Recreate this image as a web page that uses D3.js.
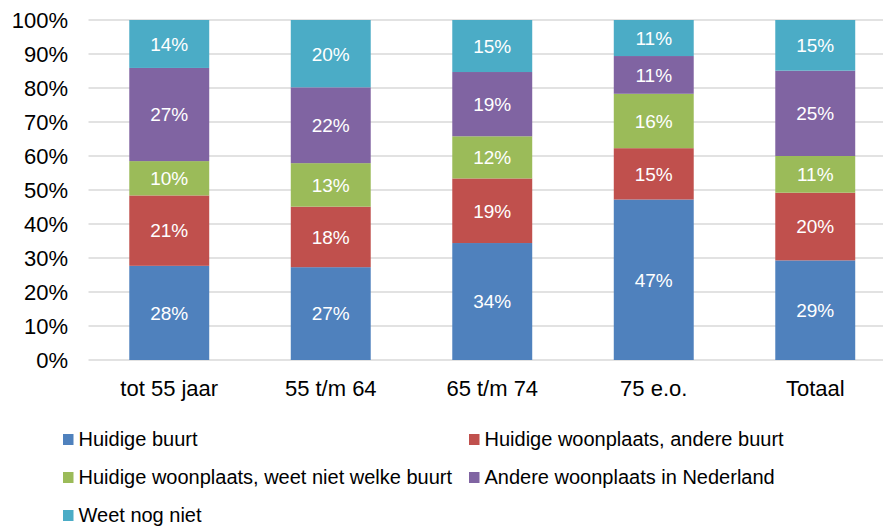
<!DOCTYPE html>
<html>
<head>
<meta charset="utf-8">
<script src="https://cdn.jsdelivr.net/npm/d3@7"></script>
<style>
  body { margin: 0; background: #fff; }
  text { font-family: "Liberation Sans", Arial, sans-serif; }
</style>
</head>
<body>
<div id="chart"></div>
<script>
// data
var categories = ["tot 55 jaar", "55 t/m 64", "65 t/m 74", "75 e.o.", "Totaal"];
var seriesNames = ["Huidige buurt", "Huidige woonplaats, andere buurt",
  "Huidige woonplaats, weet niet welke buurt", "Andere woonplaats in Nederland", "Weet nog niet"];
var huidigeBuurt   = [27.7, 27.3, 34.4, 47.2, 29.3];
var andereBuurt    = [20.7, 17.8, 19.0, 15.1, 19.9];
var weetNietBuurt  = [10.1, 12.8, 12.4, 16.0, 10.8];
var andereWoonpl   = [27.4, 22.3, 18.9, 11.1, 25.1];
var weetNogNiet    = [14.1, 19.8, 15.3, 10.6, 14.9];
var yTicks = [0, 10, 20, 30, 40, 50, 60, 70, 80, 90, 100];
var colors = ["#4F81BD", "#C0504D", "#9BBB59", "#8064A2", "#4BACC6"];

var W = 883, H = 526;
var svg = d3.select("#chart").append("svg")
  .attr("width", W)
  .attr("height", H);

// build rows for the stack
var keys = ["a", "b", "c", "d", "e"];
var rows = categories.map(function(c, i) {
  return {cat: c, a: huidigeBuurt[i], b: andereBuurt[i], c: weetNietBuurt[i], d: andereWoonpl[i], e: weetNogNiet[i]};
});
var stacked = d3.stack().keys(keys)(rows);

var x = d3.scaleBand()
  .domain(categories)
  .range([88.5, 896])
  .paddingInner(0.505)
  .paddingOuter(0.2525);

var y = d3.scaleLinear()
  .domain([0, 100])
  .range([360, 20]);

// gridlines
svg.append("g")
  .selectAll("line")
  .data(yTicks)
  .enter()
  .append("line")
    .attr("x1", 88.5)
    .attr("x2", W)
    .attr("y1", function(d) { return y(d) })
    .attr("y2", function(d) { return y(d) })
    .style("stroke", "#d9d9d9")
    .style("stroke-width", 1.5);

// y axis labels
var yAxis = svg.append("g")
  .attr("transform", "translate(89,0)")
  .call(d3.axisLeft(y).tickValues(yTicks).tickSize(0).tickPadding(21).tickFormat(function(d) { return d + "%" }));
yAxis.select(".domain").remove();
yAxis.selectAll("text")
  .style("font-size", "22px")
  .style("font-family", "'Liberation Sans', Arial, sans-serif")
  .attr("fill", "#000");

// bars
var layer = svg.selectAll(".layer")
  .data(stacked)
  .enter()
  .append("g")
    .attr("class", "layer")
    .style("fill", function(d, i) { return colors[i] });

layer.selectAll("rect")
  .data(function(d) { return d })
  .enter()
  .append("rect")
    .attr("x", function(d) { return x(d.data.cat) })
    .attr("y", function(d) { return y(d[1]) })
    .attr("width", x.bandwidth())
    .attr("height", function(d) { return y(d[0]) - y(d[1]) });

// data labels
layer.selectAll("text")
  .data(function(d) { return d })
  .enter()
  .append("text")
    .attr("x", function(d) { return x(d.data.cat) + x.bandwidth() / 2 })
    .attr("y", function(d) { return (y(d[0]) + y(d[1])) / 2 })
    .attr("dy", "0.36em")
    .attr("text-anchor", "middle")
    .style("font-size", "19px")
    .style("fill", "#fff")
    .text(function(d) { return Math.round(d[1] - d[0]) + "%" });

// x axis labels
var xAxis = svg.append("g")
  .attr("transform", "translate(0,360)")
  .call(d3.axisBottom(x).tickSize(0).tickPadding(20));
xAxis.select(".domain").remove();
xAxis.selectAll("text")
  .style("font-size", "22px")
  .style("font-family", "'Liberation Sans', Arial, sans-serif")
  .attr("fill", "#000");

// legend
var legendPos = [[63, 446], [469, 446], [63, 484], [469, 484], [63, 522]];
var legend = svg.selectAll(".legend")
  .data(seriesNames)
  .enter()
  .append("g")
    .attr("class", "legend")
    .attr("transform", function(d, i) { return "translate(" + legendPos[i][0] + "," + legendPos[i][1] + ")" });

legend.append("rect")
  .attr("x", 0)
  .attr("y", -12)
  .attr("width", 10.5)
  .attr("height", 11)
  .style("fill", function(d, i) { return colors[i] });

legend.append("text")
  .attr("x", 15.5)
  .attr("y", 0)
  .style("font-size", "20px")
  .style("fill", "#000")
  .text(function(d) { return d });
</script>
</body>
</html>
